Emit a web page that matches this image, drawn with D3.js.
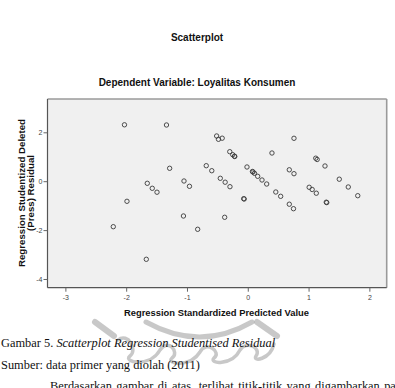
<!DOCTYPE html>
<html>
<head>
<meta charset="utf-8">
<script src="https://cdn.jsdelivr.net/npm/d3@7"></script>
<style>
  html, body { margin: 0; padding: 0; background: #fff; }
  svg { display: block; }
</style>
</head>
<body>
<div id="chart"></div>
<script>
// standardized predicted value (x) vs studentized deleted residual (y)
const predicted = [
  -2.028, -1.337, -1.285, -1.049, -0.959, -1.653, -1.571, -1.493, -1.987, -1.058,
  -2.212, -0.824, -1.669, -0.512, -0.482, -0.421, 0.760, -0.296, -0.247, -0.219,
  -0.214, 0.398, 1.118, 1.141, 1.270, -0.683, -0.592, -0.013, 0.086, 0.077,
  0.110, 0.163, 0.234, 0.311, 0.683, 0.760, -0.452, -0.372, -0.293, 1.505,
  1.653, 1.809, 1.010, 1.059, 1.127, -0.067, -0.059, 0.461, 0.541, 0.683,
  0.752, 1.291, 1.299, -0.380
];
const residual = [
  2.307, 2.299, 0.528, 0.008, -0.209, -0.086, -0.290, -0.450, -0.822, -1.423,
  -1.861, -1.967, -3.194, 1.849, 1.714, 1.759, 1.755, 1.207, 1.084, 1.023,
  1.010, 1.153, 0.941, 0.888, 0.622, 0.634, 0.429, 0.581, 0.376, 0.397,
  0.323, 0.200, 0.049, -0.115, 0.466, 0.307, 0.119, -0.041, -0.225, 0.082,
  -0.237, -0.593, -0.249, -0.339, -0.491, -0.716, -0.728, -0.442, -0.618, -0.941,
  -1.125, -0.859, -0.875, -1.476
];
const xTicks = [-3, -2, -1, 0, 1, 2];
const yTicks = [2, 0, -2, -4];

const W = 395, H = 388;
const svg = d3.select('#chart').append('svg').attr('width', W).attr('height', H);
const sans = '"Liberation Sans", Arial, Helvetica, sans-serif';
const serif = '"Liberation Serif", "Times New Roman", serif';

const box = { left: 47.5, right: 386.7, top: 99, bottom: 287.7 };
const x = d3.scaleLinear().domain([-3.294, 2.285]).range([box.left, box.right]);
const y = d3.scaleLinear().domain([-4.356, 3.362]).range([box.bottom, box.top]);

// watermark (faint logo behind the caption)
const wm = svg.append('g').attr('fill', 'none').attr('stroke', '#9a9a9a').attr('stroke-opacity', 0.55).attr('stroke-linecap', 'round');
wm.append('path').attr('d', 'M95,322 L114,336').attr('stroke-width', 6);
wm.append('path').attr('d', 'M257,322 L277,336').attr('stroke-width', 6);
wm.append('path').attr('d', 'M146,322 Q200,352 252,322').attr('stroke-width', 5);
wm.append('path').attr('d', 'M118,340 C128,332 138,350 130,356 C122,362 150,368 160,350 C168,338 180,352 172,358 C165,364 190,368 200,352 C206,340 222,352 214,358 C208,364 232,366 240,350 C246,340 262,348 256,356 C252,362 270,360 274,344').attr('stroke-width', 3.5);

// titles
svg.append('text').attr('x', 197).attr('y', 40.5).attr('text-anchor', 'middle')
  .style('font', `bold 10px ${sans}`).attr('fill', '#111').text('Scatterplot');
svg.append('text').attr('x', 197).attr('y', 85.5).attr('text-anchor', 'middle')
  .style('font', `bold 10px ${sans}`).attr('fill', '#111').text('Dependent Variable: Loyalitas Konsumen');

// plot area
svg.append('rect').attr('x', box.left).attr('y', box.top)
  .attr('width', box.right - box.left).attr('height', box.bottom - box.top).attr('fill', '#f0f0f0');
svg.append('line').attr('x1', box.left).attr('x2', box.right).attr('y1', box.top).attr('y2', box.top)
  .attr('stroke', '#9a9a9a').attr('stroke-width', 1.3);
svg.append('line').attr('x1', box.right).attr('x2', box.right).attr('y1', box.top).attr('y2', box.bottom)
  .attr('stroke', '#9a9a9a').attr('stroke-width', 1.6);

const xAxis = d3.axisBottom(x).tickValues(xTicks).tickSize(4).tickSizeOuter(0).tickPadding(3).tickFormat(d => String(d));
const yAxis = d3.axisLeft(y).tickValues(yTicks).tickSize(4).tickSizeOuter(0).tickPadding(1).tickFormat(d => String(d));

const gx = svg.append('g').attr('transform', `translate(0,${box.bottom})`).call(xAxis);
const gy = svg.append('g').attr('transform', `translate(${box.left},0)`).call(yAxis);
[gx, gy].forEach(g => {
  g.select('.domain').attr('stroke', '#555').attr('stroke-width', 1.2);
  g.selectAll('.tick line').attr('stroke', '#666');
  g.selectAll('.tick text').style('font', `7px ${sans}`).attr('fill', '#444');
});
gx.select('.domain').attr('d', `M${box.left},0H${box.right}`);
gy.select('.domain').attr('d', `M0,${box.top}V${box.bottom}`);

// points
svg.append('g').selectAll('circle')
  .data(predicted.map((p, i) => [p, residual[i]]))
  .enter().append('circle')
  .attr('cx', d => x(d[0]))
  .attr('cy', d => y(d[1]))
  .attr('r', 2.2)
  .attr('fill', 'none')
  .attr('stroke', '#3a3a3a')
  .attr('stroke-width', 0.9);

// axis titles
svg.append('text').attr('x', 216.5).attr('y', 315.5).attr('text-anchor', 'middle')
  .style('font', `bold 9.4px ${sans}`).attr('fill', '#111').text('Regression Standardized Predicted Value');
const yt = svg.append('text').attr('transform', 'translate(24.5,193) rotate(-90)')
  .attr('text-anchor', 'middle').style('font', `bold 9.7px ${sans}`).attr('fill', '#111');
yt.append('tspan').attr('x', 0).attr('y', 0).text('Regression Studentized Deleted');
yt.append('tspan').attr('x', 0).attr('y', 9.3).text('(Press) Residual');

// caption below the figure
const cap = svg.append('text').attr('x', 1).attr('y', 347).style('font', `12.4px ${serif}`).attr('fill', '#111');
cap.append('tspan').text('Gambar 5. ');
cap.append('tspan').style('font-style', 'italic').text('Scatterplot Regression Studentised Residual');
svg.append('text').attr('x', 1).attr('y', 368.5).style('font', `12.4px ${serif}`).attr('fill', '#111')
  .text('Sumber: data primer yang diolah (2011)');
svg.append('text').attr('x', 50).attr('y', 390).style('font', `12.4px ${serif}`).style('word-spacing', '1.3px').attr('fill', '#111')
  .text('Berdasarkan gambar di atas, terlihat titik-titik yang digambarkan pada');
</script>
</body>
</html>
